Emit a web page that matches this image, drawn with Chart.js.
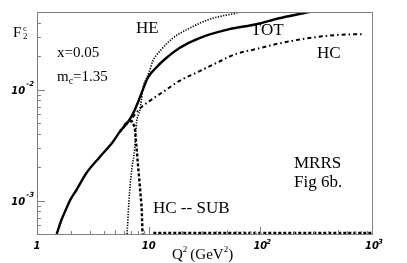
<!DOCTYPE html>
<html>
<head>
<meta charset="utf-8">
<script src="https://cdn.jsdelivr.net/npm/chart.js@4/dist/chart.umd.min.js"></script>
<style>html,body{margin:0;padding:0;background:#fff;}canvas{display:block;}</style>
</head>
<body>
<canvas id="c" width="407" height="263"></canvas>
<script>
// ---- data ----
const totQ2 = [1.5, 1.66, 1.815, 1.97, 2.26, 2.78, 3.65, 4.77, 5.5, 6.53, 7.24, 8.03, 8.91, 9.86, 11.7, 13.4, 18.9, 28.5, 52.8, 92, 147, 273, 400];
const totF  = [5e-4, 6.76e-4, 8.3e-4, 1.0e-3, 1.25e-3, 1.78e-3, 2.47e-3, 3.37e-3, 4.16e-3, 5.11e-3, 6.07e-3, 7.7e-3, 1.01e-2, 1.29e-2, 1.58e-2, 1.81e-2, 2.37e-2, 2.91e-2, 3.5e-2, 3.88e-2, 4.39e-2, 5e-2, 5.5e-2];

const heQ2 = [6.4, 6.75, 7.1, 7.5, 7.65, 7.8, 8.33, 8.6, 8.91, 9.54, 10.2, 10.9, 12.5, 16.4, 23, 35, 56, 80];
const heF  = [5e-4, 1.2e-3, 2.0e-3, 2.97e-3, 4.05e-3, 5.1e-3, 6.5e-3, 8.0e-3, 1.05e-2, 1.25e-2, 1.48e-2, 1.81e-2, 2.2e-2, 2.9e-2, 3.55e-2, 4.3e-2, 4.8e-2, 5.2e-2];

const hcQ2 = [6.0, 7.0, 8.6, 9.86, 11.3, 13.4, 18.9, 26.8, 40.5, 61, 92, 139, 237, 476, 812];
const hcF  = [4.8e-3, 5.48e-3, 6.95e-3, 7.7e-3, 8.5e-3, 9.5e-3, 1.2e-2, 1.42e-2, 1.74e-2, 2.1e-2, 2.32e-2, 2.57e-2, 2.85e-2, 3.1e-2, 3.16e-2];

const subQ2 = [5.5, 6.5, 7.05, 7.5, 7.8, 7.96, 8.65, 8.8, 9.0, 10, 11, 30, 100, 300, 1000];
const subF  = [4.16e-3, 5.1e-3, 5.2e-3, 4.6e-3, 2.97e-3, 2.3e-3, 8.8e-4, 5.3e-4, 4e-4, null, 5.1e-4, 5.1e-4, 5.1e-4, 5.1e-4, 5.1e-4];

const xTickVals = [1, 10, 100, 1000];
const xTickBase = ['1', '10', '10', '10'];
const xTickExp  = ['', '', '2', '3'];
const yTickVals = [1e-2, 1e-3];
const yTickBase = ['10', '10'];
const yTickExp  = ['-2', '-3'];

const xMin = 1, xMax = 1000, yMin = 5e-4, yMax = 5e-2;

function pts(xs, ys){ return xs.map((x,i)=>({x:x, y:ys[i]})); }

const serif = '"Liberation Serif", "Times New Roman", serif';
const tickFont = 'italic bold 10px "DejaVu Sans", sans-serif';
const supFont  = 'italic bold 7px "DejaVu Sans", sans-serif';

const framePlugin = {
  id: 'frame',
  afterDraw(chart){
    const ctx = chart.ctx, a = chart.chartArea;
    const xs = chart.scales.x, ys = chart.scales.y;
    ctx.save();
    // frame
    ctx.strokeStyle = '#808080';
    ctx.lineWidth = 1;
    ctx.strokeRect(a.left + 0.5, a.top + 0.5, a.right - a.left, a.bottom - a.top);
    // ticks
    ctx.beginPath();
    for (let n = -4; n <= 3; n++) {
      for (let m = 1; m <= 9; m++) {
        const v = m * Math.pow(10, n);
        if (v >= yMin * 0.999 && v <= yMax * 1.001 && n < 0) {
          const p = Math.round(ys.getPixelForValue(v)) + 0.5;
          const len = (m === 1) ? 8 : 4;
          ctx.moveTo(a.left, p); ctx.lineTo(a.left + len, p);
        }
        if (v >= xMin * 0.999 && v <= xMax * 1.001 && n >= 0) {
          const p = Math.round(xs.getPixelForValue(v)) + 0.5;
          const len = (m === 1) ? 7 : (m === 5 ? 4 : 3);
          ctx.moveTo(p, a.bottom); ctx.lineTo(p, a.bottom - len);
        }
      }
    }
    ctx.stroke();
    // tick labels
    ctx.fillStyle = '#000';
    ctx.textBaseline = 'alphabetic';
    xTickVals.forEach((v, i) => {
      const p = xs.getPixelForValue(v);
      ctx.font = tickFont;
      const w = ctx.measureText(xTickBase[i]).width;
      ctx.textAlign = 'left';
      ctx.fillText(xTickBase[i], p - w / 2, a.bottom + 15);
      if (xTickExp[i]) {
        ctx.font = supFont;
        ctx.fillText(xTickExp[i], p + w / 2 - 1, a.bottom + 10);
      }
    });
    yTickVals.forEach((v, i) => {
      const p = ys.getPixelForValue(v);
      ctx.font = supFont;
      const we = ctx.measureText(yTickExp[i]).width;
      ctx.font = tickFont;
      const wb = ctx.measureText(yTickBase[i]).width;
      const right = a.left - 4;
      ctx.textAlign = 'left';
      ctx.fillText(yTickBase[i], right - we - wb, p + 4);
      ctx.font = supFont;
      ctx.fillText(yTickExp[i], right - we + 1, p - 4);
    });
    // annotations
    ctx.textAlign = 'left';
    const t = (s, x, y, size) => { ctx.font = size + 'px ' + serif; ctx.fillText(s, x, y); return ctx.measureText(s).width; };
    // F2^c
    t('F', 13, 37, 15);
    t('c', 23, 31, 9);
    t('2', 23, 39, 9);
    t('x=0.05', 57, 57, 15);
    let w = t('m', 57, 81, 15);
    let w2 = t('c', 57 + w, 84, 10);
    t('=1.35', 57 + w + w2, 81, 15);
    t('HE', 136, 33, 17);
    t('TOT', 251, 35, 17);
    t('HC', 317, 58, 17);
    t('MRRS', 294, 168, 17);
    t('Fig 6b.', 294, 187, 17);
    t('HC -- SUB', 153, 213, 17);
    // axis title
    let xx = 172;
    xx += t('Q', xx, 259, 15);
    xx += t('2', xx, 252, 9) + 3;
    xx += t('(GeV', xx, 259, 15);
    xx += t('2', xx, 252, 9);
    t(')', xx, 259, 15);
    ctx.restore();
  }
};

new Chart(document.getElementById('c'), {
  type: 'line',
  data: {
    datasets: [
      { label: 'TOT', data: pts(totQ2, totF), borderColor: '#000', borderWidth: 2.4, pointRadius: 0, fill: false, cubicInterpolationMode: 'monotone' },
      { label: 'HE', data: pts(heQ2, heF), borderColor: '#000', borderWidth: 1.6, borderDash: [1.3, 1.4], pointRadius: 0, fill: false, cubicInterpolationMode: 'monotone' },
      { label: 'HC', data: pts(hcQ2, hcF), borderColor: '#000', borderWidth: 2, borderDash: [4, 3, 1.5, 3], pointRadius: 0, fill: false, cubicInterpolationMode: 'monotone' },
      { label: 'HC -- SUB', data: pts(subQ2, subF), borderColor: '#000', borderWidth: 2.4, borderDash: [3, 2], pointRadius: 0, fill: false, tension: 0, spanGaps: false }
    ]
  },
  options: {
    responsive: false,
    animation: false,
    parsing: true,
    layout: { padding: { left: 37, top: 12, right: 35, bottom: 29 } },
    plugins: { legend: { display: false }, tooltip: { enabled: false } },
    scales: {
      x: { type: 'logarithmic', min: xMin, max: xMax, display: false },
      y: { type: 'logarithmic', min: yMin, max: yMax, display: false }
    }
  },
  plugins: [framePlugin]
});
</script>
</body>
</html>
